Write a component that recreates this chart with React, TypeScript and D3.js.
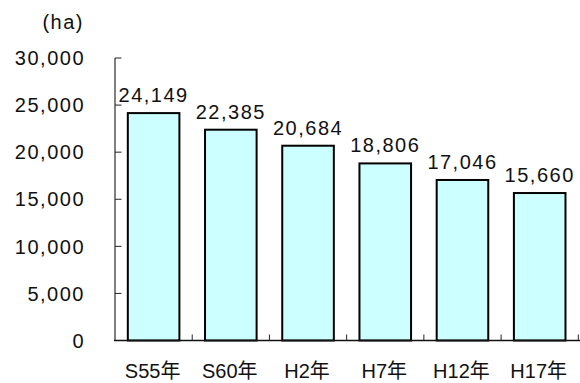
import React from "react";
import * as d3 from "d3";

const categories = ["S55年", "S60年", "H2年", "H7年", "H12年", "H17年"];
const values = [24149, 22385, 20684, 18806, 17046, 15660];
const yTicks = [0, 5000, 10000, 15000, 20000, 25000, 30000];
const unitLabel = "(ha)";

const W = 580;
const H = 383;
const FONT = "'Liberation Sans', Arial, 'Noto Sans CJK JP', sans-serif";

export default function App() {
  const x = d3
    .scaleBand<string>()
    .domain(categories)
    .range([115, 578.3])
    .paddingInner(0.332)
    .paddingOuter(0.166);
  const y = d3.scaleLinear().domain([0, 30000]).range([340.5, 58]);
  const fmt = d3.format(",");
  const step = x.step();
  const x0 = 115;
  const base = y(0);

  return (
    <svg
      width={W}
      height={H}
      style={{ position: "absolute", left: 0, top: 0, background: "#fff" }}
      fontFamily={FONT}
    >
      {/* unit */}
      <text x={84} y={29} textAnchor="end" fontSize={20} letterSpacing={1.5} fill="#111">
        {unitLabel}
      </text>
      {/* y tick labels */}
      {yTicks.map((t) => (
        <text
          key={t}
          x={85}
          y={y(t)}
          dy="0.36em"
          textAnchor="end"
          fontSize={20}
          letterSpacing={1.5}
          fill="#111"
        >
          {fmt(t)}
        </text>
      ))}
      {/* bars */}
      {categories.map((c, i) => (
        <rect
          key={c}
          x={x(c)!}
          y={y(values[i])}
          width={x.bandwidth()}
          height={base - y(values[i])}
          fill="#ccffff"
          stroke="#000"
          strokeWidth={2}
        />
      ))}
      {/* y axis line */}
      <line x1={x0} x2={x0} y1={y(30000)} y2={base} stroke="#808080" strokeWidth={2} />
      {/* y ticks */}
      {yTicks.map((t) => (
        <line key={t} x1={x0} x2={x0 + 6.5} y1={y(t)} y2={y(t)} stroke="#222" strokeWidth={1} />
      ))}
      {/* baseline */}
      <line x1={x0 - 1} x2={W} y1={base} y2={base} stroke="#111" strokeWidth={1.5} />
      {/* x ticks at category boundaries */}
      {categories.map((c, i) => (
        <line
          key={c}
          x1={x0 + step * (i + 1)}
          x2={x0 + step * (i + 1)}
          y1={base}
          y2={base - 6}
          stroke="#222"
          strokeWidth={1}
        />
      ))}
      {/* value labels */}
      {categories.map((c, i) => (
        <text
          key={c}
          x={x(c)! + x.bandwidth() / 2}
          y={y(values[i]) - 11}
          textAnchor="middle"
          fontSize={20}
          letterSpacing={1.5}
          fill="#111"
        >
          {fmt(values[i])}
        </text>
      ))}
      {/* category labels */}
      {categories.map((c) => (
        <text
          key={c}
          x={x(c)! + x.bandwidth() / 2 - 1}
          y={378}
          textAnchor="middle"
          fontSize={20}
          fill="#111"
        >
          {c}
        </text>
      ))}
    </svg>
  );
}
